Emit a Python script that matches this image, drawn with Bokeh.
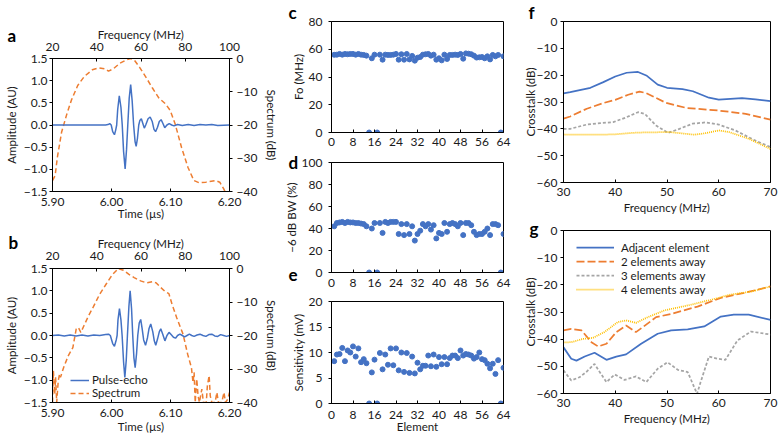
from bokeh.plotting import figure
from bokeh.layouts import row, column
from bokeh.models import (Range1d, LinearAxis, FixedTicker, CustomJSTickFormatter,
                          Title, Legend, LegendItem, Spacer)
from bokeh.embed import file_html
from bokeh.resources import INLINE

# ---------------- data ----------------
# panel a: pulse-echo waveform (time us, amplitude AU)
a_time = [5.900, 5.990, 5.994, 5.997, 5.9995, 6.002, 6.005, 6.007, 6.0088, 6.0105, 6.0132,
          6.016, 6.0182, 6.0205, 6.0231, 6.0255, 6.0276, 6.030, 6.0325, 6.035, 6.0375,
          6.040, 6.0418, 6.044, 6.0462, 6.048, 6.0506, 6.053, 6.0556, 6.058, 6.062,
          6.0655, 6.069, 6.072, 6.0747, 6.078, 6.081, 6.0841, 6.087, 6.0902, 6.094,
          6.0978, 6.102, 6.106, 6.112, 6.120, 6.130, 6.140, 6.150, 6.160, 6.170, 6.180, 6.200]
a_amp = [0.0, 0.0, 0.01, 0.03, 0.0, -0.15, -0.22, -0.12, 0.0, 0.35, 0.66,
         0.4, 0.0, -0.6, -0.99, -0.55, 0.0, 0.6, 0.91, 0.55, 0.0,
         -0.38, -0.48, -0.3, 0.0, 0.1, 0.14, 0.04, -0.07, 0.0, 0.14,
         0.18, 0.08, -0.1, -0.15, -0.05, 0.08, 0.12, 0.04, -0.06, 0.0,
         0.03, 0.0, -0.02, 0.01, -0.01, 0.01, -0.01, 0.01, 0.0, 0.01, -0.01, 0.0]
# panel a: spectrum (MHz, dB)
a_freq = [20.0, 21.2, 22.2, 24.1, 26.3, 28.5, 31.4, 34.4, 38.0, 41.0, 43.6, 45.3, 47.5,
          50.5, 53.4, 55.3, 57.1, 59.3, 62.2, 65.1, 68.1, 71.0, 73.2, 75.4, 78.3, 81.2,
          83.9, 86.4, 89.3, 93.7, 95.6, 97.4, 98.6]
a_db = [-36.7, -35.2, -29.7, -22.2, -17.1, -12.6, -8.1, -5.4, -3.4, -2.8, -3.1, -3.8, -3.1,
        -1.4, -0.4, 0.0, -0.6, -2.6, -5.6, -8.8, -11.9, -13.6, -15.6, -19.6, -26.7, -32.7,
        -36.7, -37.4, -37.2, -36.7, -37.2, -39.2, -41.0]

# panel b: pulse-echo waveform
b_time = [5.900, 5.910, 5.920, 5.930, 5.940, 5.950, 5.960, 5.970, 5.980, 5.990, 5.995, 5.998,
          6.002, 6.005, 6.008, 6.0095, 6.011, 6.0135, 6.016, 6.018, 6.0205, 6.0226, 6.025,
          6.027, 6.0295, 6.0316, 6.034, 6.036, 6.038, 6.0401, 6.0425, 6.0445, 6.047, 6.0495,
          6.052, 6.0545, 6.0577, 6.061, 6.0635, 6.0665, 6.070, 6.0725, 6.075, 6.078, 6.081,
          6.0835, 6.087, 6.0905, 6.094, 6.0975, 6.101, 6.105, 6.1085, 6.112, 6.116, 6.120,
          6.124, 6.128, 6.132, 6.136, 6.140, 6.145, 6.150, 6.155, 6.160, 6.165, 6.170, 6.175,
          6.180, 6.185, 6.190, 6.195, 6.200]
b_amp = [0.0, 0.01, -0.01, 0.01, -0.01, 0.01, -0.01, 0.01, 0.0, 0.02, 0.03, 0.0,
         -0.18, -0.24, -0.10, 0.0, 0.35, 0.60, 0.35, 0.0, -0.60, -0.94, -0.55,
         0.0, 0.65, 1.00, 0.60, 0.0, -0.50, -0.72, -0.40, 0.0, 0.28, 0.36,
         0.15, -0.10, -0.22, -0.05, 0.15, 0.26, 0.08, -0.12, -0.22, -0.08, 0.08,
         0.15, 0.02, -0.12, 0.0, 0.07, 0.02, -0.04, -0.06, 0.0, 0.03, 0.0,
         -0.03, 0.0, 0.03, 0.0, -0.02, 0.01, 0.03, 0.0, -0.02, 0.02, 0.03, -0.01,
         -0.02, 0.02, 0.0, -0.02, 0.0]
# panel b: spectrum
b_freq = [20.0, 20.4, 21.0, 21.4, 21.9, 22.6, 23.2, 23.6, 25.0, 27.1, 29.2, 30.7, 31.7, 32.8,
          34.2, 36.3, 38.5, 41.3, 44.2, 47.0, 49.8, 52.0, 54.4, 56.9, 59.8, 62.6, 65.2, 66.9,
          69.0, 70.9, 72.6, 74.0, 76.1, 79.0, 81.1, 82.8, 83.5, 84.0, 84.5, 85.2, 85.8, 86.4,
          87.5, 88.2, 89.5, 90.0, 90.8, 91.3, 92.0, 93.5, 94.3, 95.0, 96.5, 97.5, 98.2,
          99.2, 100.0]
b_db = [-40.0, -30.5, -37.5, -32.5, -40.0, -33.5, -31.5, -32.5, -29.6, -26.1, -23.6, -18.1,
        -17.6, -19.1, -17.1, -14.1, -11.4, -7.7, -4.7, -1.9, 0.0, -0.5, -1.7, -2.7, -3.7,
        -4.3, -3.9, -4.3, -5.7, -6.9, -7.5, -10.6, -14.6, -19.6, -25.6, -29.6, -34.0, -31.0,
        -40.0, -33.0, -38.0, -40.0, -36.0, -40.0, -40.0, -35.0, -32.0, -38.0, -40.0, -40.0,
        -37.0, -40.0, -40.0, -37.0, -40.0, -39.0, -37.0]

# panels c, d, e: per-element values
elements = list(range(1, 65))
fo_mhz = [56.0, 56.1, 56.6, 56.1, 56.6, 56.4, 56.6, 56.6, 56.1, 56.6, 56.1, 55.9, 55.4, 0.0,
          53.5, 56.1, 0.0, 56.1, 52.5, 56.1, 55.9, 55.9, 56.1, 56.6, 52.5, 56.4, 52.5, 56.6,
          52.7, 55.2, 51.8, 53.9, 54.4, 56.1, 56.4, 56.6, 55.4, 56.1, 52.5, 53.5, 52.0, 56.1,
          53.0, 55.9, 55.9, 56.1, 55.9, 56.6, 53.2, 57.0, 56.8, 56.4, 55.4, 54.0, 54.2, 54.4,
          53.5, 54.9, 52.7, 55.9, 54.9, 55.9, 0.0, 54.9]
bw_pct = [42, 45, 45.5, 46, 45, 46, 45.5, 45.5, 45, 45, 44.5, 44, 42, 0,
          40, 45, 0, 45, 36, 46, 45, 46, 46, 46, 35, 44, 34, 44,
          35, 42, 29, 35, 38, 44, 42, 44, 39, 43, 31, 36, 35, 45,
          37, 44, 45, 44, 42, 45, 34, 45, 45, 43, 37, 34, 35, 35,
          37, 40, 34, 44, 44, 43, 0, 35]
sens_mv = [8.3, 9.6, 9.7, 10.9, 8.3, 10.4, 10.0, 11.2, 9.2, 10.8, 8.1, 8.7, 7.9, 0.0,
           6.1, 8.6, 0.0, 9.9, 6.7, 9.6, 7.6, 10.8, 7.5, 10.8, 6.5, 10.0, 6.2, 9.9,
           6.0, 9.2, 5.9, 8.0, 6.7, 7.4, 7.4, 9.4, 7.3, 9.6, 7.2, 9.1, 7.7, 9.1,
           7.7, 8.9, 9.4, 9.4, 8.9, 10.4, 9.4, 9.7, 9.6, 9.4, 8.8, 9.1, 10.0, 8.7,
           8.5, 7.8, 6.9, 7.8, 5.8, 8.5, 0.0, 7.0]

# panel f: crosstalk
f_adj_f = [30.0, 31.3, 35.2, 37.7, 40.0, 42.2, 44.4, 46.0, 48.2, 50.0, 53.0, 55.0, 58.1, 60.0, 64.5, 67.1, 70.0]
f_adj_db = [-26.8, -26.3, -24.7, -22.6, -20.5, -19.1, -18.8, -20.1, -23.5, -24.7, -25.2, -26.0, -28.4, -29.1, -28.6, -29.0, -29.7]
f_2el_f = [30.0, 31.3, 34.5, 37.7, 40.0, 42.5, 44.7, 46.0, 49.8, 53.7, 60.0, 65.2, 70.0]
f_2el_db = [-36.2, -35.4, -32.5, -30.4, -29.2, -27.3, -26.1, -26.7, -30.3, -32.2, -33.2, -34.4, -36.6]
f_3el_f = [30.0, 31.3, 34.5, 37.1, 39.6, 41.9, 44.4, 45.7, 47.9, 50.2, 52.4, 54.9, 57.5, 60.0, 63.2, 67.1, 70.0]
f_3el_db = [-40.0, -40.0, -38.4, -37.9, -37.5, -35.9, -33.8, -34.4, -38.8, -41.5, -40.0, -38.1, -37.6, -38.4, -40.6, -44.4, -46.8]
f_4el_f = [30.0, 31.3, 39.6, 44.1, 50.5, 55.3, 57.5, 60.0, 62.0, 65.8, 70.0]
f_4el_db = [-42.1, -42.2, -42.1, -41.4, -41.2, -42.2, -41.6, -40.6, -41.2, -43.7, -47.5]

# panel g: crosstalk
g_adj_f = [30.0, 31.5, 32.5, 34.1, 36.0, 38.3, 40.2, 42.1, 45.0, 48.2, 50.8, 54.0, 57.2, 60.4, 62.9, 65.8, 70.0]
g_adj_db = [-43.0, -47.2, -47.9, -46.4, -45.0, -47.6, -46.4, -45.6, -41.7, -38.0, -36.8, -36.4, -35.3, -31.7, -31.0, -31.0, -32.9]
g_2el_f = [30.0, 31.5, 33.5, 35.4, 36.7, 38.3, 40.2, 42.1, 44.0, 45.3, 47.9, 50.8, 55.9, 60.4, 65.5, 70.0]
g_2el_db = [-36.8, -36.2, -36.8, -41.1, -42.7, -41.7, -37.4, -35.0, -37.4, -35.6, -31.9, -30.7, -28.0, -24.8, -22.7, -20.6]
g_3el_f = [30.0, 31.5, 33.1, 34.4, 36.0, 37.0, 38.3, 39.9, 41.8, 44.0, 46.0, 48.2, 50.1, 52.1, 54.0, 55.8,
           56.5, 58.1, 59.7, 61.3, 63.6, 66.2, 70.0]
g_3el_db = [-51.5, -55.2, -54.0, -52.1, -49.1, -52.1, -55.8, -53.0, -55.0, -53.7, -55.8, -50.9, -48.5, -51.3,
            -52.1, -60.1, -55.8, -46.4, -47.2, -47.6, -40.5, -37.2, -38.3]
g_4el_f = [30.0, 31.5, 33.8, 35.7, 37.9, 40.5, 42.1, 44.0, 46.3, 49.5, 54.0, 58.5, 62.3, 66.2, 70.0]
g_4el_db = [-41.2, -41.1, -39.9, -39.5, -37.4, -33.7, -33.1, -34.0, -31.9, -29.4, -27.6, -25.5, -23.6, -22.5, -20.6]

# tick labels
time_ticks = [5.90, 6.00, 6.10, 6.20]
amp_ticks = [-1.5, -1.0, -0.5, 0.0, 0.5, 1.0, 1.5]
freq_top_ticks = [20, 40, 60, 80, 100]
spec_ticks = [-40, -30, -20, -10, 0]
elem_ticks = [0, 8, 16, 24, 32, 40, 48, 56, 64]
fo_ticks = [0, 20, 40, 60, 80]
bw_ticks = [0, 20, 40, 60, 80, 100]
sens_ticks = [0, 5, 10, 15, 20]
xt_freq_ticks = [30, 40, 50, 60, 70]
xt_db_ticks = [-60, -50, -40, -30, -20, -10, 0]

# ---------------- style ----------------
FONT = "Lato"
TICK_FS = "12px"
LAB_FS = "11.5px"
TXT = "#1a1a1a"
BLUE = "#4472C4"
ORANGE = "#ED7D31"
GRAY = "#A5A5A5"
YELLOW = "#FFC000"


def fmt(n):
    return CustomJSTickFormatter(code="return tick.toFixed(%d).replace('-', '\\u2212');" % n)


def style_axis(ax, ticks, ndec, label, t_in, t_out, lab_so, axlab_so):
    ax.ticker = FixedTicker(ticks=ticks)
    ax.formatter = fmt(ndec)
    ax.axis_label = label
    ax.axis_label_text_font = FONT
    ax.axis_label_text_font_size = LAB_FS
    ax.axis_label_text_font_style = "normal"
    ax.axis_label_text_color = TXT
    ax.major_label_text_font = FONT
    ax.major_label_text_font_size = TICK_FS
    ax.major_label_text_color = TXT
    ax.axis_line_color = "black"
    ax.axis_line_width = 1
    ax.major_tick_line_color = "black"
    ax.minor_tick_line_color = None
    ax.major_tick_in = t_in
    ax.major_tick_out = t_out
    ax.major_label_standoff = lab_so
    ax.axis_label_standoff = axlab_so


def make_fig(w, h, xr, yr, bl, br, bt, bb):
    p = figure(width=w, height=h, x_range=xr, y_range=yr, output_backend="svg",
               toolbar_location=None, min_border=0,
               min_border_left=bl, min_border_right=br,
               min_border_top=bt, min_border_bottom=bb)
    p.grid.visible = False
    p.outline_line_color = "black"
    p.outline_line_width = 1
    p.background_fill_color = "white"
    p.border_fill_color = "white"
    return p


def letter(p, txt, offset, standoff, valign="bottom", side="above"):
    # panel letter as an (unclipped) title in a side panel
    p.add_layout(Title(text=txt, align="left", vertical_align=valign, offset=offset,
                       standoff=standoff, text_font=FONT, text_font_style="bold",
                       text_font_size="17px", text_color="black"), side)


def twin_panel(h, bl, br, bt, bb, t_time, t_amp, f_freq, f_db,
               bot_so, bot_lab_so, top_so, top_lab_so):
    p = make_fig(281, h, Range1d(5.90, 6.20), Range1d(-1.5, 1.5), bl, br, bt, bb)
    p.extra_x_ranges = {"freq": Range1d(20, 100)}
    p.extra_y_ranges = {"db": Range1d(-40, 0)}
    style_axis(p.below[0], time_ticks, 2, "Time (\u00b5s)", 3, 0, bot_so, bot_lab_so)
    style_axis(p.left[0], amp_ticks, 1, "Amplitude (AU)", 0, 3, 2, 3)
    top = LinearAxis(x_range_name="freq")
    style_axis(top, freq_top_ticks, 0, "Frequency (MHz)", 3, 0, top_so, top_lab_so)
    p.add_layout(top, "above")
    right = LinearAxis(y_range_name="db")
    style_axis(right, spec_ticks, 0, "Spectrum (dB)", 0, 3, 4, 5)
    p.add_layout(right, "right")
    r_spec = p.line(f_freq, f_db, x_range_name="freq", y_range_name="db",
                    line_color=ORANGE, line_width=1.5, line_dash="5 3")
    r_wave = p.line(t_time, t_amp, line_color=BLUE, line_width=1.5)
    return p, r_wave, r_spec


# ---------------- panel a / b ----------------
top_gap = Spacer(width=281, height=14)
pa, _, _ = twin_panel(210, 52, 47, 44, 33, a_time, a_amp, a_freq, a_db, 6, -2, 8, -1)
letter(pa, "a", -45, -42)

pb, rw, rs = twin_panel(217, 50, 44, 44, 39, b_time, b_amp, b_freq, b_db, 6, 0, 9, -1)
letter(pb, "b", -44, -39)
leg_b = Legend(items=[LegendItem(label="Pulse-echo", renderers=[rw]),
                      LegendItem(label="Spectrum", renderers=[rs])],
               location=(18, 3), glyph_width=19, glyph_height=12, label_height=12,
               spacing=0, padding=0, margin=0, label_standoff=3,
               label_text_font=FONT, label_text_font_size=LAB_FS, label_text_color=TXT,
               border_line_color=None, background_fill_alpha=0)
pb.add_layout(leg_b)


# ---------------- panels c / d / e ----------------
def elem_panel(h, bt, bb, yr, yticks, ylabel, vals, lab_so, axlab_so, xlabel=None):
    p = make_fig(237, h, Range1d(0, 64), yr, 49, 15, bt, bb)
    style_axis(p.below[0], elem_ticks, 0, xlabel, 3, 0, lab_so, axlab_so)
    style_axis(p.left[0], yticks, 0, ylabel, 0, 3, 6, 1)
    p.scatter(elements, vals, size=5, color=BLUE, line_color=BLUE)
    return p


pc = elem_panel(152, 21, 20, Range1d(0, 80), fo_ticks, "Fo (MHz)", fo_mhz, 5, 0)
letter(pc, "c", -43, -2)
pd = elem_panel(141, 10, 21, Range1d(0, 100), bw_ticks, "\u22126 dB BW (%)", bw_pct, 6, 0)
letter(pd, "d", -43, -21)
letter(pd, "e", -43, -42, "top", "below")
pe = elem_panel(148, 8, 38, Range1d(0, 20), sens_ticks, "Sensitivity (mV)", sens_mv, 7, -2, "Element")


# ---------------- panels f / g ----------------
def xt_panel(h, bl, br, bt, bb):
    p = make_fig(266, h, Range1d(30, 70), Range1d(-60, 0), bl, br, bt, bb)
    style_axis(p.below[0], xt_freq_ticks, 0, "Frequency (MHz)", 3, 0, 5, 2)
    style_axis(p.left[0], xt_db_ticks, 0, "Crosstalk (dB)", 0, 3, 3, -3)
    return p


pf = xt_panel(218, 45, 12, 21, 36)
pf.line(f_adj_f, f_adj_db, line_color=BLUE, line_width=1.75)
pf.line(f_2el_f, f_2el_db, line_color=ORANGE, line_width=1.75, line_dash="8 3")
pf.line(f_3el_f, f_3el_db, line_color=GRAY, line_width=1.75, line_dash="3 2")
pf.line(f_4el_f, f_4el_db, line_color=YELLOW, line_width=1.75, line_dash="1 1")
letter(pf, "f", -35, -2)

pg = xt_panel(223, 44, 14, 12, 48)
g1 = pg.line(g_adj_f, g_adj_db, line_color=BLUE, line_width=1.75)
g2 = pg.line(g_2el_f, g_2el_db, line_color=ORANGE, line_width=1.75, line_dash="8 3")
g3 = pg.line(g_3el_f, g_3el_db, line_color=GRAY, line_width=1.75, line_dash="3 2")
g4 = pg.line(g_4el_f, g_4el_db, line_color=YELLOW, line_width=1.75, line_dash="1 1")
letter(pg, "g", -34, -17)
leg_g = Legend(items=[LegendItem(label="Adjacent element", renderers=[g1]),
                      LegendItem(label="2 elements away", renderers=[g2]),
                      LegendItem(label="3 elements away", renderers=[g3]),
                      LegendItem(label="4 elements away", renderers=[g4])],
               location=(13, 97), glyph_width=38, glyph_height=14, label_height=14,
               spacing=0, padding=0, margin=0, label_standoff=7,
               label_text_font=FONT, label_text_font_size=LAB_FS, label_text_color=TXT,
               border_line_color=None, background_fill_alpha=0)
pg.add_layout(leg_g)

layout = row(column(top_gap, pa, pb, spacing=0), column(pc, pd, pe, spacing=0),
             column(pf, pg, spacing=0), spacing=0)

open("out.html", "w").write(file_html(layout, INLINE))
